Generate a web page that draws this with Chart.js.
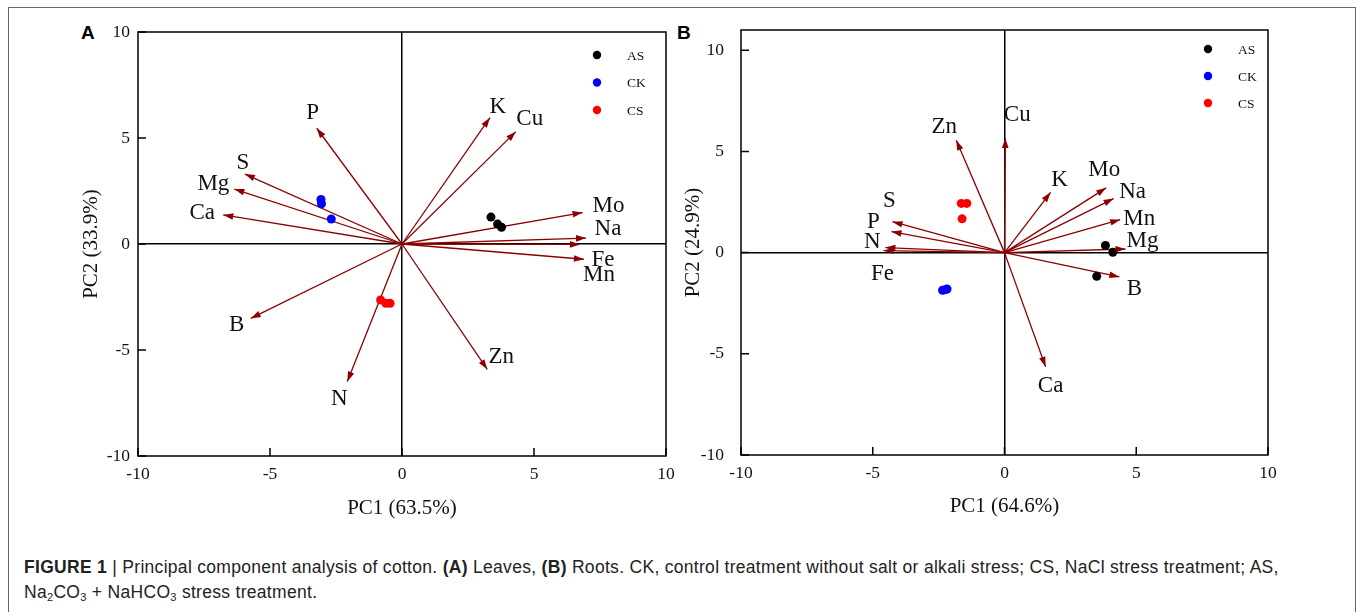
<!DOCTYPE html>
<html>
<head>
<meta charset="utf-8">
<script src="https://cdn.jsdelivr.net/npm/chart.js@4.4.1/dist/chart.umd.min.js"></script>
<style>
  body { margin: 0; background: #fff; }
  #fig { position: relative; width: 1362px; height: 612px; overflow: hidden; }
  #frame { position: absolute; left: 8px; top: 7px; width: 1346px; height: 640px; border: 1px solid #666; }
  canvas { position: absolute; }
  .panel { position: absolute; font: bold 19px "Liberation Sans", Arial, sans-serif; }
  #caption { position: absolute; left: 24px; top: 555px; font: 17.5px "Liberation Sans", Arial, sans-serif; letter-spacing: 0.3px; color: #222; line-height: 25px; white-space: nowrap; }
  #caption sub { font-size: 11px; vertical-align: -3px; line-height: 0; }
</style>
</head>
<body>
<div id="fig">
  <div id="frame"></div>
  <div class="panel" style="left:81px;top:22px">A</div>
  <div class="panel" style="left:677px;top:22px">B</div>
  <canvas id="pcaA" width="620" height="520" style="left:60px;top:10px"></canvas>
  <canvas id="pcaB" width="620" height="520" style="left:680px;top:10px"></canvas>
  <div id="caption"><b>FIGURE 1</b> | Principal component analysis of cotton. <b>(A)</b> Leaves, <b>(B)</b> Roots. CK, control treatment without salt or alkali stress; CS, NaCl stress treatment; AS,<br>Na<sub>2</sub>CO<sub>3</sub> + NaHCO<sub>3</sub> stress treatment.</div>
</div>
<script>
// ---- data ----
var groups = ["AS", "CK", "CS"];
var groupColors = ["#000000", "#0000ff", "#ff0000"];
var tickVals = [-10, -5, 0, 5, 10];

// A: leaves
var varsA = ["P", "S", "Mg", "Ca", "K", "Cu", "Mo", "Na", "Fe", "Mn", "Zn", "B", "N"];
var loadPC1A = [-3.23, -5.95, -6.35, -6.77, 3.33, 4.31, 6.84, 6.97, 6.89, 6.74, 3.23, -5.73, -2.07];
var loadPC2A = [5.46, 3.30, 2.59, 1.37, 5.96, 5.30, 1.48, 0.28, -0.72, -0.02, -5.91, -3.51, -6.49];
var asPC1A = [3.37, 3.62, 3.77], asPC2A = [1.27, 0.94, 0.79];
var ckPC1A = [-3.07, -3.05, -2.68], ckPC2A = [2.10, 1.90, 1.18];
var csPC1A = [-0.81, -0.61, -0.45], csPC2A = [-2.64, -2.80, -2.80];

// B: roots
var varsB = ["Zn", "S", "P", "N", "Fe", "Cu", "K", "Mo", "Na", "Mn", "Mg", "B", "Ca"];
var loadPC1B = [-1.83, -4.25, -4.29, -4.52, -4.59, 0.03, 1.75, 3.86, 4.14, 4.39, 4.59, 4.36, 1.56];
var loadPC2B = [5.55, 1.53, 1.04, 0.25, 0.10, 5.66, 2.98, 3.20, 2.67, 1.63, 0.18, -1.20, -5.64];
var asPC1B = [3.83, 4.11, 3.50], asPC2B = [0.35, 0.02, -1.17];
var ckPC1B = [-2.35, -2.25, -2.18], ckPC2B = [-1.86, -1.83, -1.80];
var csPC1B = [-1.64, -1.43, -1.61], csPC2B = [2.43, 2.43, 1.67];

// label offsets from arrow tips (px)
var offA = { P: [-4, -15], S: [-2, -11], Mg: [-21, -5], Ca: [-21, -2], K: [8, -11], Cu: [14, -13],
  Mo: [26, -7], Na: [22, -9], Fe: [19, 1], Mn: [19, 31], Zn: [14, -12], B: [-14, 7], N: [-8, 17] };
var offB = { Zn: [-12, -13], S: [-3, -21], P: [-18, -10], N: [-13, -6], Fe: [-1, 23], Cu: [12, -23],
  K: [9, -12], Mo: [-2, -18], Na: [19, -7], Mn: [19, -1], Mg: [17, -8], B: [15, 12], Ca: [5, 19] };

var serif = '"Liberation Serif", "Times New Roman", serif';
var arrowColor = "#8b0000";

function pairs(xs, ys) { return xs.map(function (x, i) { return { x: x, y: ys[i] }; }); }

var biplot = {
  id: "biplot",
  afterDatasetsDraw: function (chart, args, opts) {
    var ctx = chart.ctx;
    ctx.save();
    ctx.font = "23px " + serif;
    ctx.textAlign = "center";
    ctx.textBaseline = "middle";
    chart.data.datasets.forEach(function (ds, i) {
      if (!ds.arrow) return;
      var p = chart.getDatasetMeta(i).data;
      var a = p[0], b = p[1];
      var ang = Math.atan2(b.y - a.y, b.x - a.x);
      ctx.save();
      ctx.fillStyle = arrowColor;
      ctx.translate(b.x, b.y);
      ctx.rotate(ang);
      ctx.beginPath();
      ctx.moveTo(0, 0); ctx.lineTo(-10, -3.3); ctx.lineTo(-10, 3.3); ctx.closePath();
      ctx.fill();
      ctx.restore();
      var o = opts.offsets[ds.label] || [0, 0];
      ctx.fillStyle = "#111";
      ctx.fillText(ds.label, b.x + o[0], b.y + o[1]);
    });
    ctx.restore();
  },
  afterDraw: function (chart, args, opts) {
    var ctx = chart.ctx, ar = chart.chartArea;
    var sx = chart.scales.x, sy = chart.scales.y;
    ctx.save();
    ctx.strokeStyle = "#000";
    ctx.lineWidth = 1.5;
    ctx.strokeRect(ar.left, ar.top, ar.right - ar.left, ar.bottom - ar.top);
    ctx.beginPath();
    tickVals.forEach(function (v) {
      var px = sx.getPixelForValue(v), py = sy.getPixelForValue(v);
      ctx.moveTo(px, ar.bottom); ctx.lineTo(px, ar.bottom - 8);
      ctx.moveTo(ar.left, py); ctx.lineTo(ar.left + 8, py);
    });
    ctx.stroke();
    // legend
    ctx.font = "13.5px " + serif;
    ctx.textBaseline = "middle";
    ctx.textAlign = "left";
    var k = 0;
    chart.data.datasets.forEach(function (ds) {
      if (ds.arrow) return;
      var lx = ar.right - opts.legendDx, ly = ar.top + opts.legendDy + k * opts.legendGap;
      ctx.fillStyle = ds.backgroundColor;
      ctx.beginPath(); ctx.arc(lx, ly, 4.2, 0, Math.PI * 2); ctx.fill();
      ctx.fillStyle = "#111";
      ctx.fillText(ds.label, lx + 30, ly + 1);
      k++;
    });
    ctx.restore();
  }
};

function makeChart(id, vars, pc1, pc2, scores, cfg) {
  var datasets = [];
  scores.forEach(function (s, g) {
    datasets.push({ type: "scatter", label: groups[g], data: pairs(s[0], s[1]),
      backgroundColor: groupColors[g], borderColor: groupColors[g], pointRadius: 4.5, borderWidth: 0 });
  });
  vars.forEach(function (v, i) {
    datasets.push({ type: "line", label: v, arrow: true, data: [{ x: 0, y: 0 }, { x: pc1[i], y: pc2[i] }],
      borderColor: arrowColor, borderWidth: 1.3, pointRadius: 0, fill: false, tension: 0 });
  });
  function axis(min, max, title, titlePad, tickPad, isX) {
    return {
      type: "linear", min: min, max: max,
      afterBuildTicks: function (s) { s.ticks = tickVals.map(function (v) { return { value: v }; }); },
      afterFit: function (s) {
        if (isX) s.height = cfg.xAxisH; else s.width = cfg.yAxisW;
        s.paddingLeft = 0; s.paddingRight = 0; s.paddingTop = 0; s.paddingBottom = 0;
      },
      grid: {
        drawTicks: false,
        color: function (c) { return c.tick && c.tick.value === 0 ? "#000" : "rgba(0,0,0,0)"; },
        lineWidth: 1.5
      },
      border: { display: false },
      ticks: { color: "#111", padding: tickPad, font: { family: serif, size: 17.5 }, maxRotation: 0 },
      title: { display: true, text: title, color: "#111", font: { family: serif, size: 21 }, padding: titlePad }
    };
  }
  return new Chart(document.getElementById(id), {
    type: "scatter",
    data: { datasets: datasets },
    plugins: [biplot],
    options: {
      responsive: false, animation: false, events: [],
      layout: { padding: { top: cfg.padTop, right: cfg.padRight, left: 0, bottom: 0 } },
      scales: {
        x: axis(-10, 10, cfg.xTitle, { top: 0, bottom: cfg.xTitlePad }, cfg.xTickPad, true),
        y: axis(-10, cfg.yMax, cfg.yTitle, { top: cfg.yTitlePad, bottom: 0 }, cfg.yTickPad, false)
      },
      plugins: {
        legend: { display: false }, tooltip: { enabled: false },
        biplot: { offsets: cfg.offsets, legendDx: cfg.legendDx, legendDy: cfg.legendDy, legendGap: cfg.legendGap }
      }
    }
  });
}

makeChart("pcaA", varsA, loadPC1A, loadPC2A,
  [[asPC1A, asPC2A], [ckPC1A, ckPC2A], [csPC1A, csPC2A]],
  { xTitle: "PC1 (63.5%)", yTitle: "PC2 (33.9%)", yMax: 10, padTop: 22, padRight: 14,
    yAxisW: 78, xAxisH: 74, xTitlePad: 9, yTitlePad: 19, xTickPad: 8, yTickPad: 8,
    offsets: offA, legendDx: 69, legendDy: 23, legendGap: 27.5 });

makeChart("pcaB", varsB, loadPC1B, loadPC2B,
  [[asPC1B, asPC2B], [ckPC1B, ckPC2B], [csPC1B, csPC2B]],
  { xTitle: "PC1 (64.6%)", yTitle: "PC2 (24.9%)", yMax: 11, padTop: 20, padRight: 32,
    yAxisW: 61, xAxisH: 75, xTitlePad: 11, yTitlePad: 1, xTickPad: 8, yTickPad: 17,
    offsets: offB, legendDx: 60, legendDy: 19, legendGap: 27 });
</script>
</body>
</html>
